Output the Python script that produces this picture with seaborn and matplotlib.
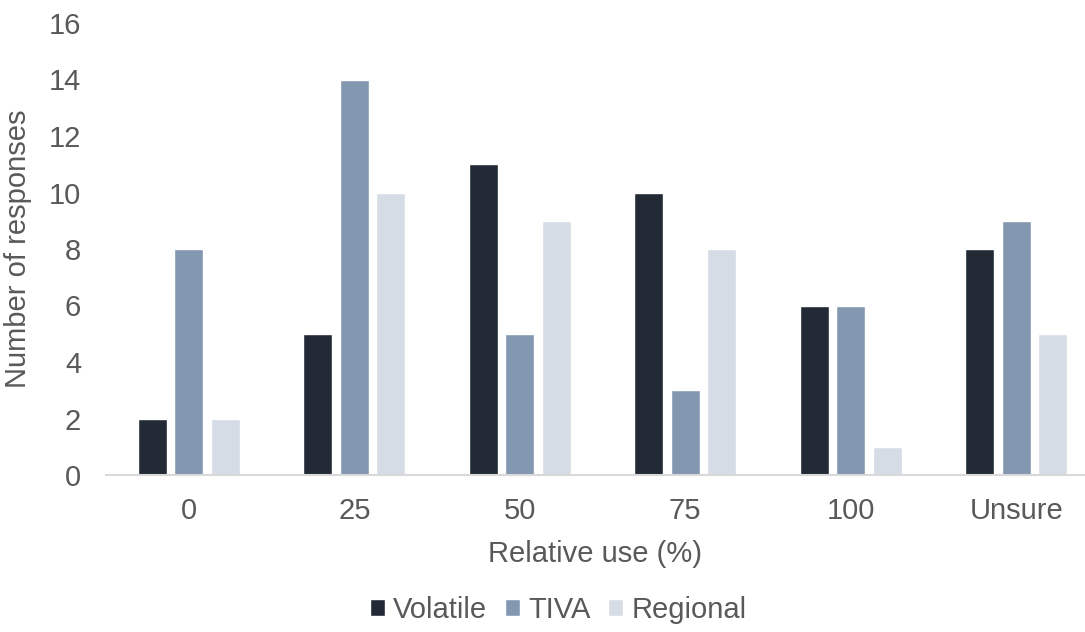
import matplotlib
matplotlib.use("Agg")
import matplotlib.pyplot as plt
import seaborn as sns
import pandas as pd

categories = ["0", "25", "50", "75", "100", "Unsure"]
volatile = [2, 5, 11, 10, 6, 8]
tiva = [8, 14, 5, 3, 6, 9]
regional = [2, 10, 9, 8, 1, 5]
series_names = ["Volatile", "TIVA", "Regional"]
colors = ["#222A35", "#8497B0", "#D6DCE5"]
y_ticks = [0, 2, 4, 6, 8, 10, 12, 14, 16]

rows = []
for name, vals in zip(series_names, [volatile, tiva, regional]):
    for cat, v in zip(categories, vals):
        rows.append({"category": cat, "series": name, "value": v})
df = pd.DataFrame(rows)

sns.set_theme(style="white")
plt.rcParams["font.family"] = ["Liberation Sans", "DejaVu Sans"]
text_color = "#595959"
fs = 21

fig = plt.figure(figsize=(10.85, 6.32), dpi=100)
ax = fig.add_axes([106 / 1085, (632 - 475) / 632, 1 - 106 / 1085, (475 - 23) / 632])

sns.barplot(data=df, x="category", y="value", hue="series", order=categories,
            hue_order=series_names, palette=colors, width=0.66, gap=0.2,
            saturation=1, ax=ax, legend=True)

ax.set_xlim(-0.5, -0.5 + 979 / 165.5)
ax.set_ylim(0, 16)
ax.set_yticks(y_ticks)
ax.set_yticklabels([str(t) for t in y_ticks])
ax.tick_params(axis="y", length=0, pad=18, labelsize=fs, labelcolor=text_color)
ax.tick_params(axis="x", length=0, pad=16, labelsize=fs, labelcolor=text_color)
for s in ["top", "right", "left"]:
    ax.spines[s].set_visible(False)
ax.spines["bottom"].set_color("#D9D9D9")
ax.spines["bottom"].set_linewidth(1.5)
ax.grid(False)

ax.set_xlabel("Relative use (%)", fontsize=fs, color=text_color, labelpad=11)
ax.set_ylabel("Number of responses", fontsize=fs, color=text_color, labelpad=12)

handles, labels = ax.get_legend_handles_labels()
ax.get_legend().remove()
fig.legend(handles, labels, loc="center", bbox_to_anchor=(558 / 1085, 22 / 632), ncol=3,
           frameon=False, fontsize=fs, handlelength=0.52, handleheight=0.52,
           handletextpad=0.28, columnspacing=0.6, labelcolor=text_color)

fig.savefig("out.png", dpi=100)
